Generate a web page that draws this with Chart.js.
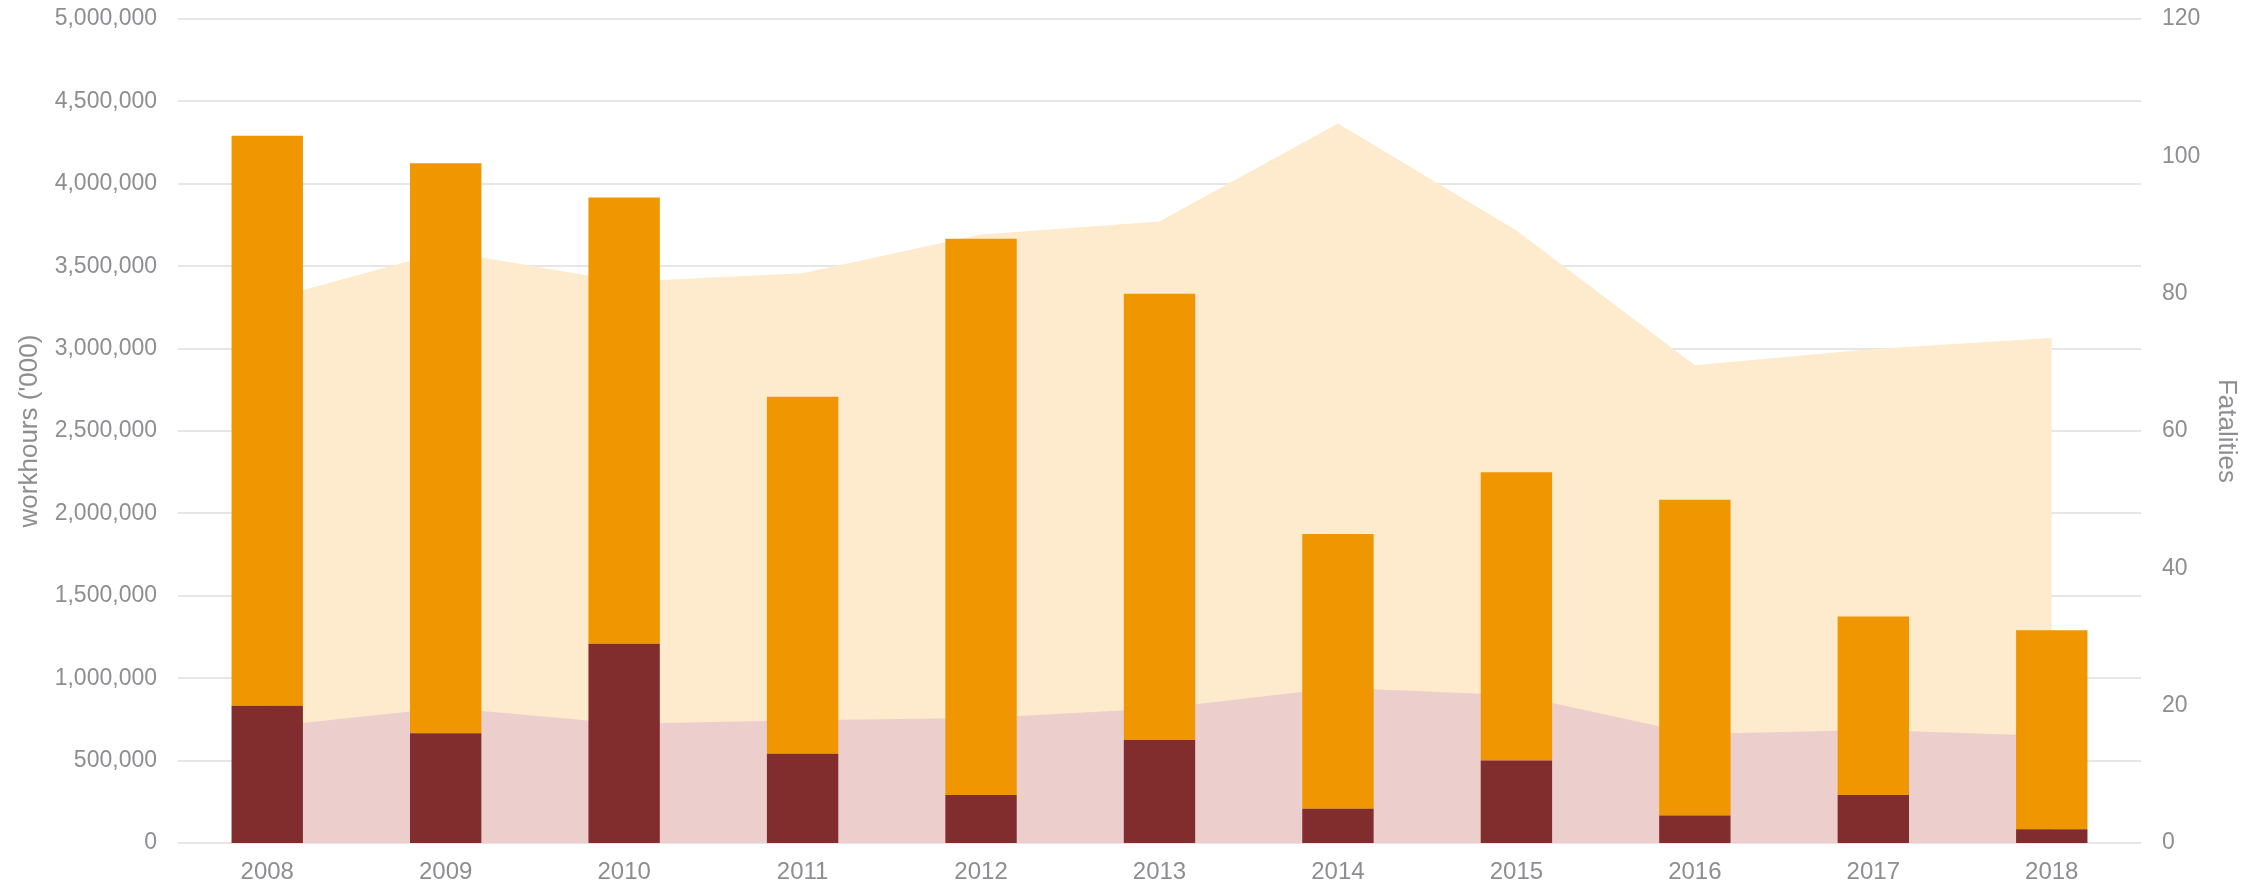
<!DOCTYPE html>
<html>
<head>
<meta charset="utf-8">
<script src="https://cdn.jsdelivr.net/npm/chart.js@4"></script>
<style>
  html, body { margin: 0; padding: 0; background: #ffffff; }
  #wrap { width: 2261px; height: 888px; position: relative; }
</style>
</head>
<body>
<div id="wrap"><canvas id="c" width="2261" height="888"></canvas></div>
<script>
// Categories
const years = ['2008', '2009', '2010', '2011', '2012', '2013', '2014', '2015', '2016', '2017', '2018'];

// Workhours ('000) – left axis (areas)
const totalWorkhours   = [3297000, 3590000, 3405000, 3457000, 3692000, 3771000, 4366000, 3716000, 2899000, 2997000, 3064000];
const companyWorkhours = [705000, 820000, 723000, 745000, 759000, 816000, 942000, 896000, 662000, 686000, 649000];

// Fatalities – right axis (stacked bars)
const companyFatalities    = [20, 16, 29, 13, 7, 15, 5, 12, 4, 7, 2];
const contractorFatalities = [83, 83, 65, 52, 81, 65, 40, 42, 46, 26, 29];

// Axis ranges / ticks
const workhoursMax = 5000000, workhoursStep = 500000;
const fatalitiesMax = 120, fatalitiesStep = 20;

const FONT = '"Liberation Sans", Arial, Helvetica, sans-serif';
const GREY = '#8e8e92';

new Chart(document.getElementById('c'), {
  type: 'bar',
  data: {
    labels: years,
    datasets: [
      {
        type: 'bar', label: 'Company fatalities', data: companyFatalities,
        yAxisID: 'y1', stack: 'fat', order: 0,
        backgroundColor: '#812d2d', borderWidth: 0,
        categoryPercentage: 0.8, barPercentage: 0.5
      },
      {
        type: 'bar', label: 'Contractor fatalities', data: contractorFatalities,
        yAxisID: 'y1', stack: 'fat', order: 0,
        backgroundColor: '#ef9600', borderWidth: 0,
        categoryPercentage: 0.8, barPercentage: 0.5
      },
      {
        type: 'line', label: 'Company workhours', data: companyWorkhours,
        yAxisID: 'y', order: 1, fill: 'origin', tension: 0,
        backgroundColor: '#eccecd', borderWidth: 0, borderColor: 'rgba(0,0,0,0)',
        pointRadius: 0, pointHoverRadius: 0
      },
      {
        type: 'line', label: 'Total workhours', data: totalWorkhours,
        yAxisID: 'y', order: 2, fill: 'origin', tension: 0,
        backgroundColor: '#feeacc', borderWidth: 0, borderColor: 'rgba(0,0,0,0)',
        pointRadius: 0, pointHoverRadius: 0
      }
    ]
  },
  options: {
    responsive: false,
    animation: false,
    layout: { padding: { left: 10, right: 15, top: 19, bottom: 0 } },
    plugins: { legend: { display: false }, tooltip: { enabled: false } },
    scales: {
      x: {
        stacked: true, offset: true,
        afterFit: (s) => { s.height = 45; },
        grid: { display: false, drawTicks: false },
        border: { display: false },
        ticks: { color: GREY, font: { family: FONT, size: 24 }, padding: 15 }
      },
      y: {
        position: 'left', stacked: false,
        min: 0, max: workhoursMax,
        afterFit: (s) => { s.width = 168; s.paddingTop = 0; s.paddingBottom = 0; },
        grid: { color: '#e6e6e6', lineWidth: 2, drawTicks: false },
        border: { display: false },
        ticks: {
          stepSize: workhoursStep, color: GREY, padding: 21,
          font: { family: FONT, size: 23 },
          callback: (v) => Number(v).toLocaleString('en-US')
        },
        title: { display: true, text: "workhours ('000)", color: GREY, font: { family: FONT, size: 26 } }
      },
      y1: {
        position: 'right', stacked: true,
        min: 0, max: fatalitiesMax,
        afterFit: (s) => { s.width = 105; s.paddingTop = 0; s.paddingBottom = 0; },
        grid: { display: false, drawTicks: false },
        border: { display: false },
        ticks: {
          stepSize: fatalitiesStep, color: GREY, padding: 21,
          font: { family: FONT, size: 23 }
        },
        title: { display: true, text: 'Fatalities', color: GREY, font: { family: FONT, size: 26 } }
      }
    }
  }
});
</script>
</body>
</html>
